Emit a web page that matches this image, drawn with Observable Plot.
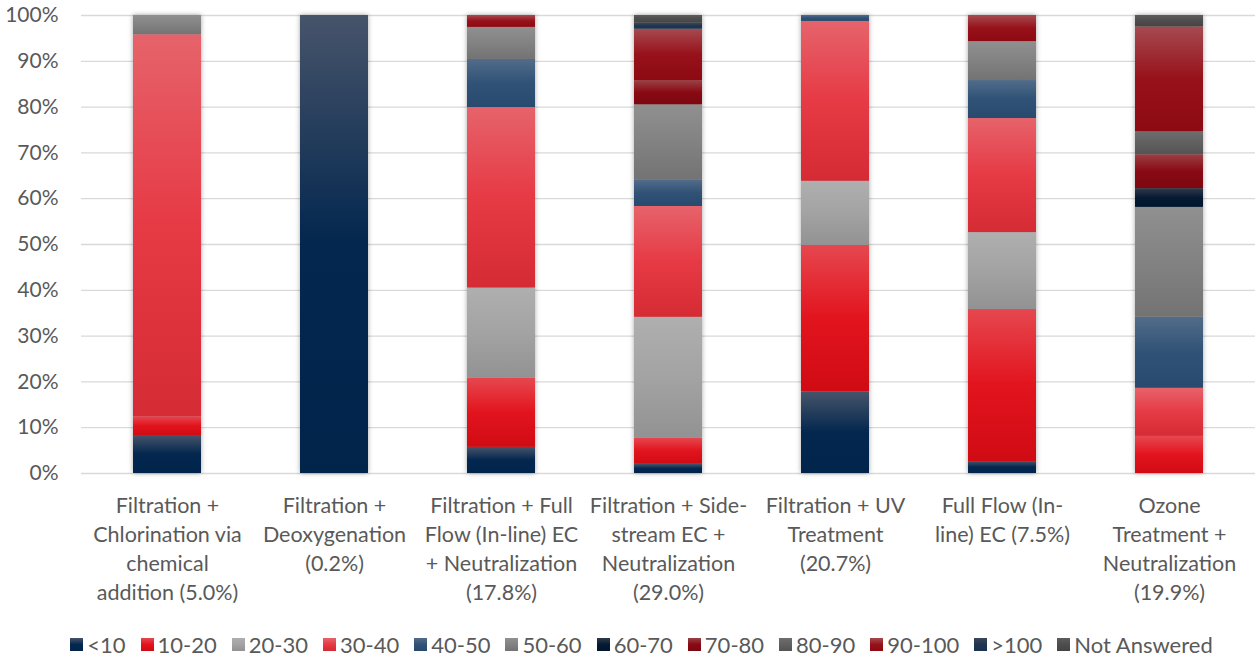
<!DOCTYPE html>
<html>
<head>
<meta charset="utf-8">
<script src="https://cdn.jsdelivr.net/npm/d3@7"></script>
<script src="https://cdn.jsdelivr.net/npm/@observablehq/plot@0.6"></script>
<style>
  html, body { margin: 0; padding: 0; background: #fff; }
  body { width: 1257px; height: 662px; overflow: hidden; font-family: Lato, "Open Sans", sans-serif; }
  #chart svg g[aria-label="bar"] { filter: drop-shadow(0px 0px 2.5px rgba(0,0,0,0.35)); }
  #legend { display: flex; justify-content: center; align-items: center; gap: 0 15px; font-size: 22px; color: #595959; height: 40px; margin-top: 2px; padding-left: 26px; }
  #legend .item { display: flex; align-items: center; white-space: nowrap; }
  #legend .sw { width: 13px; height: 13px; margin-right: 4px; display: inline-block; }
</style>
</head>
<body>
<svg id="defs" width="0" height="0" style="position:absolute"></svg>
<div id="chart"></div>
<div id="legend"></div>
<script>
// Bars (x categories), in order
const categories = [
  "Filtration +\nChlorination via\nchemical\naddition (5.0%)",
  "Filtration +\nDeoxygenation\n(0.2%)",
  "Filtration + Full\nFlow (In-line) EC\n+ Neutralization\n(17.8%)",
  "Filtration + Side-\nstream EC +\nNeutralization\n(29.0%)",
  "Filtration + UV\nTreatment\n(20.7%)",
  "Full Flow (In-\nline) EC (7.5%)",
  "Ozone\nTreatment +\nNeutralization\n(19.9%)"
];

// Series (stack order bottom -> top)
const seriesNames = ["<10", "10-20", "20-30", "30-40", "40-50", "50-60", "60-70", "70-80", "80-90", "90-100", ">100", "Not Answered"];

// Percent values per series, one per bar
const vLt10     = [8.3, 100, 5.7, 2.0, 17.8, 2.6, 0];
const v10_20    = [4.1, 0, 15.1, 5.7, 32.0, 33.2, 8.1];
const v20_30    = [0, 0, 19.7, 26.4, 14.0, 16.8, 0];
const v30_40    = [83.4, 0, 39.4, 24.2, 34.9, 24.9, 10.5];
const v40_50    = [0, 0, 10.5, 5.7, 1.3, 8.3, 15.5];
const v50_60    = [4.2, 0, 7.0, 16.5, 0, 8.5, 24.0];
const v60_70    = [0, 0, 0, 0, 0, 0, 4.1];
const v70_80    = [0, 0, 0, 5.2, 0, 0, 7.4];
const v80_90    = [0, 0, 0, 0, 0, 0, 5.0];
const v90_100   = [0, 0, 2.6, 11.3, 0, 5.7, 22.9];
const vGt100    = [0, 0, 0, 1.3, 0, 0, 0];
const vNA       = [0, 0, 0, 1.7, 0, 0, 2.5];

const yTicks = [0, 0.1, 0.2, 0.3, 0.4, 0.5, 0.6, 0.7, 0.8, 0.9, 1.0];

// Gradient colours per series: [top, middle, bottom]
const seriesColors = [
  ["#47546a", "#03274f", "#00244a"],
  ["#e6474f", "#e2141e", "#d00b13"],
  ["#afafaf", "#a3a3a3", "#929292"],
  ["#e6636b", "#e63a45", "#d52b34"],
  ["#526c8a", "#305276", "#284a6e"],
  ["#909090", "#828282", "#737373"],
  ["#2f3a4c", "#061a33", "#00162d"],
  ["#9b3f44", "#880a13", "#7d0710"],
  ["#6e6e6e", "#606060", "#545454"],
  ["#a64a50", "#97111a", "#8d0a13"],
  ["#3b4659", "#1f3550", "#1a3350"],
  ["#5c5c5c", "#4d4d4d", "#444444"]
];

const seriesValues = [vLt10, v10_20, v20_30, v30_40, v40_50, v50_60, v60_70, v70_80, v80_90, v90_100, vGt100, vNA];

// Build gradient defs
const defs = d3.select("#defs").append("defs");
seriesColors.forEach((c, i) => {
  const g = defs.append("linearGradient").attr("id", "grad" + i)
    .attr("x1", 0).attr("y1", 0).attr("x2", 0).attr("y2", 1);
  g.append("stop").attr("offset", "0%").attr("stop-color", c[0]);
  g.append("stop").attr("offset", "50%").attr("stop-color", c[1]);
  g.append("stop").attr("offset", "100%").attr("stop-color", c[2]);
});

// Long table
const data = [];
seriesNames.forEach((s, si) => {
  categories.forEach((cat, ci) => {
    const v = seriesValues[si][ci];
    if (v > 0) data.push({category: cat, series: s, value: v});
  });
});

const chart = Plot.plot({
  width: 1257,
  height: 622,
  marginLeft: 81,
  marginRight: 2,
  marginTop: 15,
  marginBottom: 149,
  style: {fontFamily: "Lato, 'Open Sans', sans-serif", background: "#fff"},
  x: {domain: categories, paddingInner: 0.595, paddingOuter: 0.2975, label: null},
  y: {domain: [0, 1], label: null},
  color: {domain: seriesNames, range: seriesNames.map((s, i) => `url(#grad${i})`)},
  marks: [
    Plot.gridY(yTicks, {stroke: "#d9d9d9", strokeOpacity: 1, strokeWidth: 1.3}),
    Plot.axisY(yTicks, {tickSize: 0, tickPadding: 23, tickFormat: d3.format(".0%"), fontSize: 21, fill: "#595959", label: null}),
    Plot.axisX({tickSize: 0, tickPadding: 19, fontSize: 21.5, lineHeight: 1.35, fill: "#595959", label: null}),
    Plot.barY(data, Plot.stackY({
      x: "category",
      y: "value",
      z: "series",
      fill: "series",
      order: seriesNames,
      offset: "normalize"
    }))
  ]
});
document.getElementById("chart").appendChild(chart);

// Legend
const legend = d3.select("#legend");
seriesNames.forEach((s, i) => {
  const c = seriesColors[i];
  const it = legend.append("div").attr("class", "item");
  it.append("span").attr("class", "sw").style("background", `linear-gradient(${c[0]}, ${c[1]} 50%, ${c[2]})`);
  it.append("span").text(s);
});
</script>
</body>
</html>
